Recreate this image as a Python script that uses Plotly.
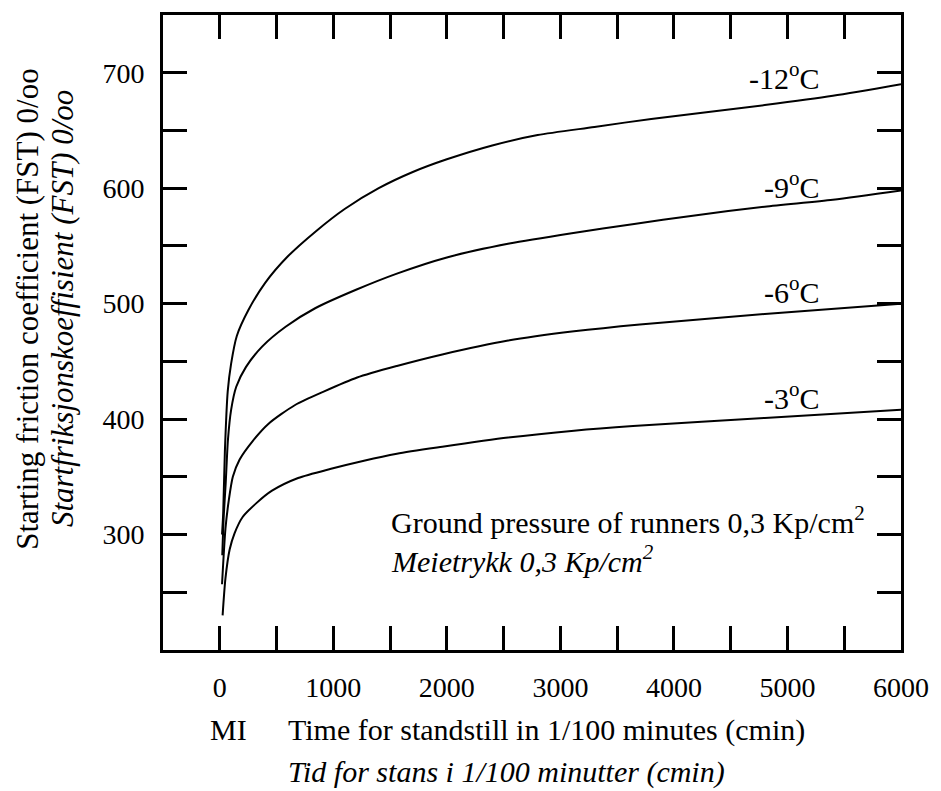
import plotly.graph_objects as go

# ---- data ----
series_names = ["-12", "-9", "-6", "-3"]

t_m12 = [20, 30, 45, 70, 100, 150, 250, 400, 600, 850, 1100, 1400, 1700, 2000, 2400, 2800, 3300, 3800, 4800, 5400, 6000]
v_m12 = [300, 318, 372, 424, 448, 472, 494, 518, 541, 563, 582, 600, 614, 625, 637, 646, 653, 660, 672, 680, 690]

t_m9 = [22, 35, 52, 72, 100, 145, 230, 375, 580, 840, 1200, 1560, 2000, 2550, 3100, 3650, 4150, 4800, 5400, 6000]
v_m9 = [282, 316, 344, 382, 408, 428, 445, 463, 480, 496, 512, 526, 540, 552, 561, 569, 576, 584, 590, 598]

t_m6 = [20, 50, 80, 115, 175, 290, 430, 660, 920, 1210, 1560, 1960, 2540, 3120, 3700, 4800, 6000]
v_m6 = [257, 305, 330, 350, 365, 381, 396, 412, 424, 436, 446, 456, 468, 476, 482, 491, 500]

t_m3 = [25, 50, 87, 130, 200, 320, 460, 690, 980, 1270, 1560, 1960, 2540, 3120, 3640, 4800, 6000]
v_m3 = [230, 262, 287, 301, 315, 327, 338, 349, 357, 364, 370, 376, 384, 390, 394, 401, 408]

x_tick_vals = [0, 500, 1000, 1500, 2000, 2500, 3000, 3500, 4000, 4500, 5000, 5500, 6000]
x_tick_text = ["0", "", "1000", "", "2000", "", "3000", "", "4000", "", "5000", "", "6000"]
y_tick_vals = [250, 300, 350, 400, 450, 500, 550, 600, 650, 700]
y_tick_text = ["", "300", "", "400", "", "500", "", "600", "", "700"]

xs = [t_m12, t_m9, t_m6, t_m3]
ys = [v_m12, v_m9, v_m6, v_m3]

FONT = "Liberation Serif"
FS = 30
TFS = 28

fig = go.Figure()
for name, x, y in zip(series_names, xs, ys):
    fig.add_trace(go.Scatter(x=x, y=y, mode="lines", name=name,
                             line=dict(color="black", width=2, shape="spline", smoothing=0.7),
                             hoverinfo="skip"))

# curve labels
label_y = {"-12": 697, "-9": 603, "-6": 512, "-3": 420}
for name in series_names:
    fig.add_annotation(x=5300, y=label_y[name], xref="x", yref="y",
                       text=f"{name}<sup>o</sup>C", showarrow=False,
                       xanchor="right", yanchor="middle",
                       font=dict(family=FONT, size=FS, color="black"))

# pressure note
fig.add_annotation(x=0.3057, y=0.2040, xref="paper", yref="paper",
                   text="Ground pressure of runners 0,3 Kp/cm<sup>2</sup>", showarrow=False,
                   xanchor="left", yanchor="middle",
                   font=dict(family=FONT, size=FS, color="black"))
fig.add_annotation(x=0.3057, y=0.1440, xref="paper", yref="paper",
                   text="<i>Meietrykk 0,3 Kp/cm<sup>2</sup></i>", showarrow=False,
                   xanchor="left", yanchor="middle",
                   font=dict(family=FONT, size=FS, color="black"))

# x axis title
fig.add_annotation(x=0.0881, y=-0.1254, xref="paper", yref="paper",
                   text="MI", showarrow=False, xanchor="center", yanchor="middle",
                   font=dict(family=FONT, size=FS, color="black"))
fig.add_annotation(x=0.1669, y=-0.1254, xref="paper", yref="paper",
                   text="Time for standstill in 1/100 minutes (cmin)", showarrow=False,
                   xanchor="left", yanchor="middle",
                   font=dict(family=FONT, size=FS, color="black"))
fig.add_annotation(x=0.1669, y=-0.1928, xref="paper", yref="paper",
                   text="<i>Tid for stans i 1/100 minutter (cmin)</i>", showarrow=False,
                   xanchor="left", yanchor="middle",
                   font=dict(family=FONT, size=FS, color="black"))

# y axis title (two lines)
fig.add_annotation(x=-0.1840, y=0.5376, xref="paper", yref="paper",
                   text="Starting friction coefficient (FST) 0/oo", showarrow=False,
                   textangle=-90, xanchor="center", yanchor="middle",
                   font=dict(family=FONT, size=31, color="black"))
fig.add_annotation(x=-0.1362, y=0.5376, xref="paper", yref="paper",
                   text="<i>Startfriksjonskoeffisient (FST) 0/oo</i>", showarrow=False,
                   textangle=-90, xanchor="center", yanchor="middle",
                   font=dict(family=FONT, size=31, color="black"))

axis_common = dict(showline=True, linewidth=3, linecolor="black", mirror="ticks",
                   ticks="inside", ticklen=24, tickwidth=2.5, tickcolor="black",
                   showgrid=False, zeroline=False,
                   tickfont=dict(family=FONT, size=TFS, color="black"))

fig.update_xaxes(range=[-500, 6000], tickmode="array", tickvals=x_tick_vals,
                 ticktext=x_tick_text, ticklabelstandoff=10, **axis_common)
fig.update_yaxes(range=[200, 750], tickmode="array", tickvals=y_tick_vals,
                 ticktext=y_tick_text, ticklabelstandoff=10, **axis_common)

fig.update_layout(width=941, height=791,
                  margin=dict(l=163, r=29, t=12, b=141, pad=0),
                  plot_bgcolor="white", paper_bgcolor="white",
                  showlegend=False,
                  font=dict(family=FONT, size=FS, color="black"))

fig.write_html("out.html")
